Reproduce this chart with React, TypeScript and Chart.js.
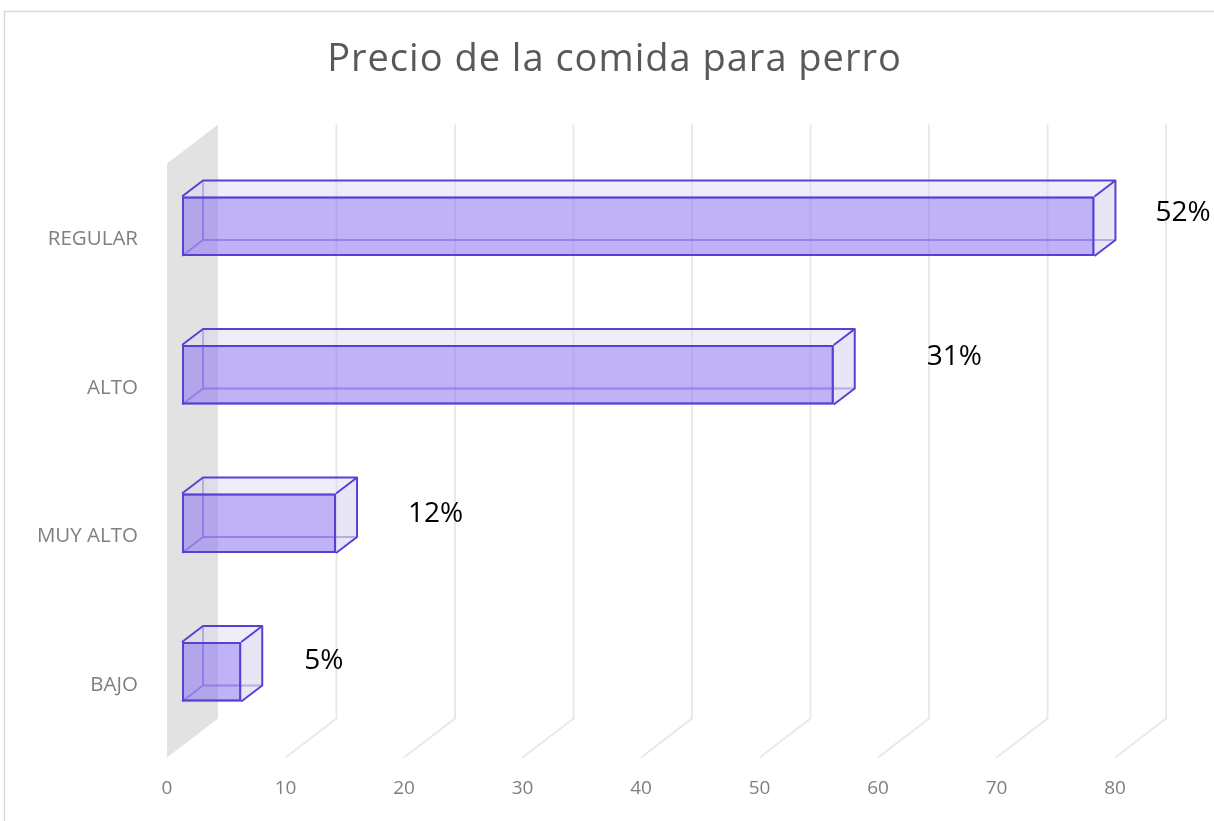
import React, { useEffect, useRef } from "react";
import { Chart, registerables } from "chart.js";

Chart.register(...registerables);

// ---- data ----
const categories = ["REGULAR", "ALTO", "MUY ALTO", "BAJO"];
const values = [77, 55, 13, 5];
const pctLabels = ["52%", "31%", "12%", "5%"];
const xTicks = [0, 10, 20, 30, 40, 50, 60, 70, 80];
const chartTitle = "Precio de la comida para perro";

// ---- 3D projection offsets (pixels, relative to the bar front face plane) ----
const FRONT = { dx: -15, dy: 11.5 };
const BAR_BACK = { dx: 21, dy: -16 };
const WALL_BACK = { dx: 36, dy: -27.5 };
const LABEL_NUDGE: [number, number][] = [
  [41, -13],
  [73, -18],
  [52, -9],
  [43, -11],
];

const EDGE = "#5a3fd6";
const FONT = "'Open Sans', 'DejaVu Sans', sans-serif";

function barGeom(el: any) {
  const p = el.getProps(["x", "y", "base", "height"], true);
  const left = Math.min(p.base, p.x);
  const right = Math.max(p.base, p.x);
  const top = p.y - p.height / 2;
  const bottom = p.y + p.height / 2;
  return { left, right, top, bottom, cy: p.y };
}

const threeD = {
  id: "threeD",
  beforeDraw(chart: any) {
    const { ctx, chartArea: ca, scales } = chart;
    const xs = scales.x;
    const ys = scales.y;
    ctx.save();
    // outer chart border
    ctx.strokeStyle = "#d9d9d9";
    ctx.lineWidth = 1.5;
    ctx.strokeRect(4.5, 11.5, chart.width + 40, chart.height + 40);

    // title
    ctx.fillStyle = "#595959";
    ctx.font = `38px ${FONT}`;
    (ctx as any).letterSpacing = "1px";
    ctx.textAlign = "center";
    ctx.textBaseline = "middle";
    ctx.fillText(chartTitle, 614.5, 60);
    (ctx as any).letterSpacing = "0px";

    // back wall (side wall at value 0)
    const x0 = xs.getPixelForValue(0);
    ctx.fillStyle = "#e2e2e2";
    ctx.beginPath();
    ctx.moveTo(x0 + FRONT.dx, ca.top + FRONT.dy);
    ctx.lineTo(x0 + WALL_BACK.dx, ca.top + WALL_BACK.dy);
    ctx.lineTo(x0 + WALL_BACK.dx, ca.bottom + WALL_BACK.dy);
    ctx.lineTo(x0 + FRONT.dx, ca.bottom + FRONT.dy);
    ctx.closePath();
    ctx.fill();

    // gridlines on back plane + floor
    ctx.strokeStyle = "#e9e9e9";
    ctx.lineWidth = 2;
    xTicks.forEach((v) => {
      if (v === 0) return;
      const px = xs.getPixelForValue(v);
      ctx.beginPath();
      ctx.moveTo(px + WALL_BACK.dx, ca.top + WALL_BACK.dy);
      ctx.lineTo(px + WALL_BACK.dx, ca.bottom + WALL_BACK.dy);
      ctx.lineTo(px + FRONT.dx, ca.bottom + FRONT.dy);
      ctx.stroke();
    });

    // x tick labels
    ctx.fillStyle = "#7f7f7f";
    ctx.font = `19px ${FONT}`;
    ctx.textAlign = "center";
    ctx.textBaseline = "middle";
    xTicks.forEach((v) => {
      const px = xs.getPixelForValue(v);
      ctx.fillText(String(v), px + FRONT.dx, ca.bottom + FRONT.dy + 31);
    });

    // category labels
    ctx.font = `20.5px ${FONT}`;
    ctx.textAlign = "right";
    categories.forEach((c, i) => {
      const py = ys.getPixelForValue(i);
      ctx.fillText(c, x0 + FRONT.dx - 29, py + FRONT.dy + 1.5);
    });
    ctx.restore();
  },
  beforeDatasetsDraw(chart: any) {
    const { ctx } = chart;
    const meta = chart.getDatasetMeta(0);
    ctx.save();
    ctx.strokeStyle = "rgba(90,63,214,0.55)";
    ctx.lineWidth = 2;
    meta.data.forEach((el: any) => {
      const g = barGeom(el);
      const bl = g.left + BAR_BACK.dx;
      const br = g.right + BAR_BACK.dx;
      const bt = g.top + BAR_BACK.dy;
      const bb = g.bottom + BAR_BACK.dy;
      ctx.beginPath();
      ctx.moveTo(bl, bt);
      ctx.lineTo(bl, bb);
      ctx.lineTo(br, bb);
      ctx.moveTo(g.left, g.bottom);
      ctx.lineTo(bl, bb);
      ctx.stroke();
    });
    ctx.restore();
  },
  afterDatasetsDraw(chart: any) {
    const { ctx } = chart;
    const meta = chart.getDatasetMeta(0);
    ctx.save();
    meta.data.forEach((el: any, i: number) => {
      const g = barGeom(el);
      const dx = BAR_BACK.dx;
      const dy = BAR_BACK.dy;
      // top face
      ctx.fillStyle = "rgba(220,215,240,0.45)";
      ctx.beginPath();
      ctx.moveTo(g.left, g.top);
      ctx.lineTo(g.right, g.top);
      ctx.lineTo(g.right + dx, g.top + dy);
      ctx.lineTo(g.left + dx, g.top + dy);
      ctx.closePath();
      ctx.fill();
      // right face
      ctx.fillStyle = "rgba(205,200,232,0.45)";
      ctx.beginPath();
      ctx.moveTo(g.right, g.top);
      ctx.lineTo(g.right + dx, g.top + dy);
      ctx.lineTo(g.right + dx, g.bottom + dy);
      ctx.lineTo(g.right, g.bottom);
      ctx.closePath();
      ctx.fill();
      // visible edges
      ctx.strokeStyle = EDGE;
      ctx.lineWidth = 2;
      ctx.lineJoin = "round";
      ctx.beginPath();
      ctx.moveTo(g.left, g.top);
      ctx.lineTo(g.left + dx, g.top + dy);
      ctx.lineTo(g.right + dx, g.top + dy);
      ctx.lineTo(g.right + dx, g.bottom + dy);
      ctx.lineTo(g.right, g.bottom);
      ctx.moveTo(g.right, g.top);
      ctx.lineTo(g.right + dx, g.top + dy);
      ctx.stroke();
      ctx.strokeRect(g.left + 1, g.top + 1, g.right - g.left - 2, g.bottom - g.top - 2);

      // data label
      const n = LABEL_NUDGE[i] || [45, -12];
      ctx.fillStyle = "#000000";
      ctx.font = `28px ${FONT}`;
      ctx.textAlign = "left";
      ctx.textBaseline = "middle";
      ctx.fillText(pctLabels[i], g.right + dx + n[0] - 1, g.cy + n[1]);
    });
    ctx.restore();
  },
};

export default function App() {
  const ref = useRef<HTMLCanvasElement | null>(null);
  useEffect(() => {
    if (!ref.current) return;
    const chart = new Chart(ref.current, {
      type: "bar",
      data: {
        labels: categories,
        datasets: [
          {
            data: values,
            backgroundColor: "rgba(140,115,240,0.55)",
            borderColor: EDGE,
            borderWidth: 2,
            barPercentage: 0.4,
            categoryPercentage: 1,
          },
        ],
      },
      options: {
        indexAxis: "y",
        animation: false,
        responsive: false,
        maintainAspectRatio: false,
        layout: { padding: { left: 182, right: 84, top: 152, bottom: 75 } },
        scales: {
          x: { display: false, min: 0, max: 80 },
          y: { display: false },
        },
        plugins: {
          legend: { display: false },
          tooltip: { enabled: false },
          title: { display: false },
        },
      },
      plugins: [threeD],
    });
    return () => chart.destroy();
  }, []);
  return (
    <div style={{ position: "fixed", left: 0, top: 0, width: 1214, height: 821, background: "#fff" }}>
      <canvas ref={ref} width={1214} height={821} style={{ display: "block" }} />
    </div>
  );
}
